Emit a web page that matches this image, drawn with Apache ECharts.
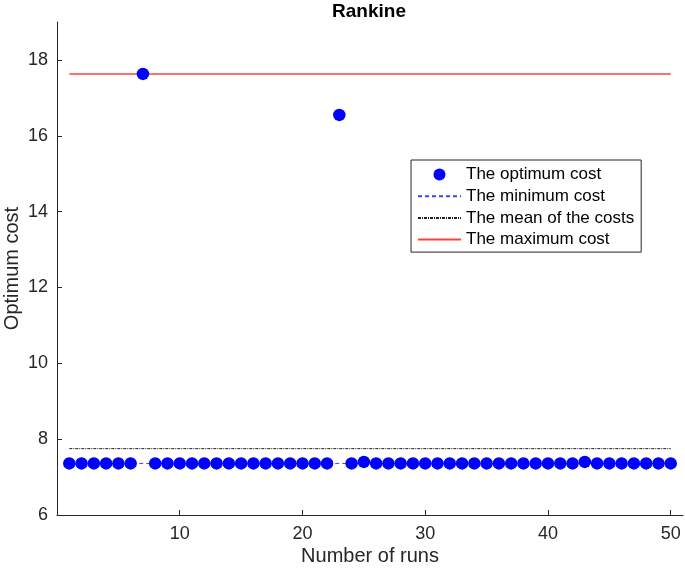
<!DOCTYPE html>
<html><head><meta charset="utf-8">
<script src="https://cdn.jsdelivr.net/npm/echarts@6/dist/echarts.min.js"></script>
<style>html,body{margin:0;padding:0;background:#fff}#c{width:685px;height:572px}</style>
</head><body><div id="c"></div>
<script>
// Data
const runs = [1,2,3,4,5,6,7,8,9,10,11,12,13,14,15,16,17,18,19,20,21,22,23,24,25,26,27,28,29,30,31,32,33,34,35,36,37,38,39,40,41,42,43,44,45,46,47,48,49,50];
const optimumCost = [7.36,7.36,7.36,7.36,7.36,7.36,17.63,7.36,7.36,7.36,7.36,7.36,7.36,7.36,7.36,7.36,7.36,7.36,7.36,7.36,7.36,7.36,16.55,7.36,7.40,7.36,7.36,7.36,7.36,7.36,7.36,7.36,7.36,7.36,7.36,7.36,7.36,7.36,7.36,7.36,7.36,7.36,7.40,7.36,7.36,7.36,7.36,7.36,7.36,7.36];
const minCost = 7.36;
const meanCost = 7.75;
const maxCost = 17.63;
const xTicks = [10,20,30,40,50];
const yTicks = [6,8,10,12,14,16,18];
const seriesNames = ['The optimum cost','The minimum cost','The mean of the costs','The maximum cost'];

const font = '"Liberation Sans", Arial, Helvetica, sans-serif';
const axisCol = '#262626';
const chart = echarts.init(document.getElementById('c'), null, {renderer:'canvas'});
const first = runs[0], last = runs[runs.length-1];
const hideSym = {opacity:0};
chart.setOption({
  animation:false,
  backgroundColor:'#fff',
  textStyle:{fontFamily:font},
  title:{text:'Rankine', left:364, top:-3, textAlign:'center',
    textStyle:{fontFamily:font, fontWeight:'bold', fontSize:19, color:'#000'}},
  grid:{left:57, right:2, top:22, bottom:57, containLabel:false, outerBoundsMode:'none'},
  legend:{orient:'vertical', left:411, top:160, padding:[6,7,4,6], itemGap:4.7,
    itemWidth:43, itemHeight:12, borderColor:'#262626', borderWidth:1, backgroundColor:'#fff',
    textStyle:{fontFamily:font, fontSize:17, color:'#000'},
    data:[
      {name:seriesNames[0], icon:'circle'},
      {name:seriesNames[1], itemStyle:hideSym},
      {name:seriesNames[2], itemStyle:hideSym},
      {name:seriesNames[3], itemStyle:hideSym}
    ]},
  xAxis:{type:'value', min:0, max:51,
    name:'Number of runs', nameLocation:'middle', nameGap:31, nameMoveOverlap:false,
    nameTextStyle:{fontFamily:font, fontSize:20, color:axisCol},
    axisLine:{show:true, lineStyle:{color:axisCol, width:1}},
    axisTick:{show:true, inside:true, length:5, customValues:xTicks, lineStyle:{color:axisCol}},
    axisLabel:{customValues:xTicks, fontFamily:font, fontSize:18, color:axisCol, margin:10},
    splitLine:{show:false}},
  yAxis:{type:'value', min:6, max:19,
    name:'Optimum cost', nameLocation:'middle', nameGap:35, nameMoveOverlap:false,
    nameTextStyle:{fontFamily:font, fontSize:20, color:axisCol},
    axisLine:{show:true, lineStyle:{color:axisCol, width:1}},
    axisTick:{show:true, inside:true, length:5, customValues:yTicks, lineStyle:{color:axisCol}},
    axisLabel:{customValues:yTicks, fontFamily:font, fontSize:18, color:axisCol, margin:9},
    splitLine:{show:false}},
  series:[
    {name:seriesNames[1], type:'line', symbol:'none', z:1,
      lineStyle:{color:'#4040ff', width:1, type:[4,3]}, itemStyle:{color:'#4040ff'},
      data:[[first,minCost],[last,minCost]]},
    {name:seriesNames[2], type:'line', symbol:'none', z:1,
      lineStyle:{color:'#222', width:1, type:[3,1,1,1]}, itemStyle:{color:'#222'},
      data:[[first,meanCost],[last,meanCost]]},
    {name:seriesNames[3], type:'line', symbol:'none', z:1,
      lineStyle:{color:'#ff4040', width:1.5}, itemStyle:{color:'#ff4040'},
      data:[[first,maxCost],[last,maxCost]]},
    {name:seriesNames[0], type:'scatter', symbol:'circle', symbolSize:12.5, z:3,
      itemStyle:{color:'#0000ff', opacity:1},
      data:runs.map((r,i)=>[r, optimumCost[i]])}
  ]
});
</script></body></html>
